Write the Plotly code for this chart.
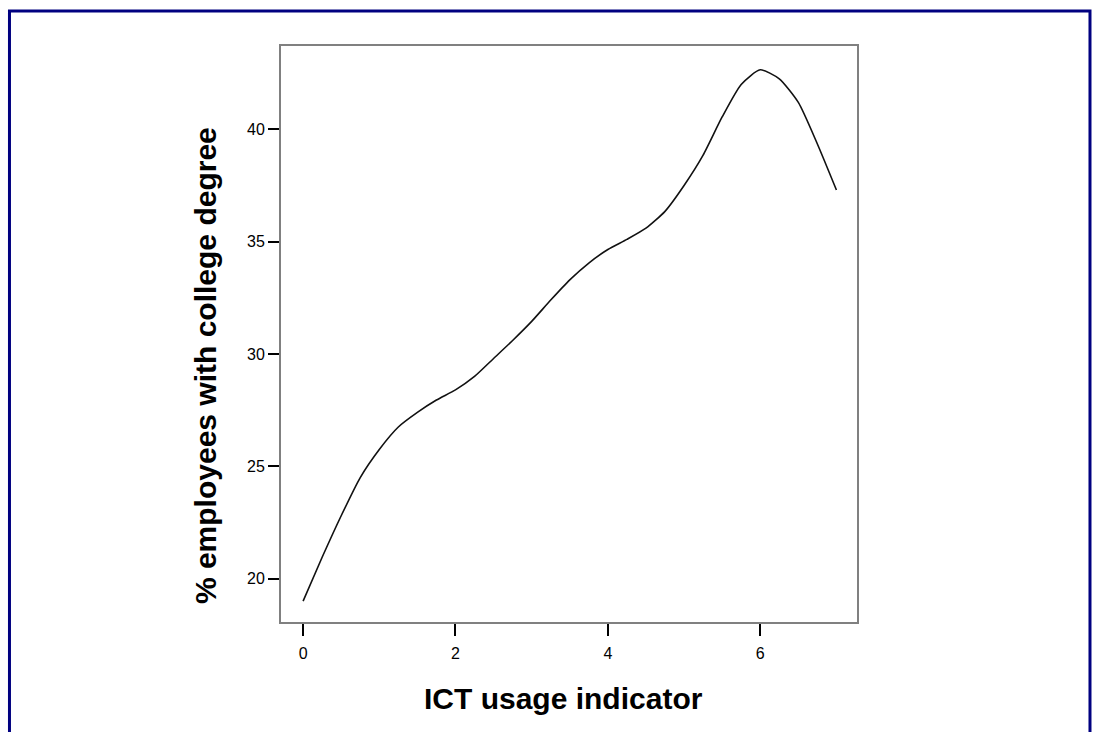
import plotly.graph_objects as go

ict_usage = [0, 0.25, 0.5, 0.75, 1.0, 1.25, 1.5, 1.75, 2.0, 2.25, 2.5, 2.75, 3.0, 3.25,
             3.5, 3.75, 4.0, 4.25, 4.5, 4.75, 5.0, 5.25, 5.5, 5.75, 6.0, 6.25, 6.5, 6.75, 7.0]
pct_college = [19.0, 20.95, 22.8, 24.5, 25.75, 26.75, 27.4, 27.95, 28.4, 29.0, 29.8, 30.6,
               31.45, 32.4, 33.3, 34.05, 34.65, 35.1, 35.6, 36.35, 37.5, 38.85, 40.55, 42.0,
               42.65, 42.25, 41.2, 39.35, 37.3]
x_ticks = [0, 2, 4, 6]
y_ticks = [20, 25, 30, 35, 40]
x_title = "ICT usage indicator"
y_title = "% employees with college degree"

fig = go.Figure()
fig.add_trace(go.Scatter(x=ict_usage, y=pct_college, mode="lines",
                         line=dict(color="#111111", width=1.6, shape="spline", smoothing=0.6),
                         showlegend=False, hoverinfo="skip"))

axis_common = dict(showgrid=False, zeroline=False, showline=True, mirror=True,
                   linecolor="#808080", linewidth=2, ticks="outside",
                   tickwidth=2, tickcolor="#000000",
                   tickfont=dict(family="Liberation Sans, Arial", size=16, color="#000000"))

fig.update_xaxes(range=[-0.29, 7.27], tickvals=x_ticks, ticklen=12,
                 ticklabelstandoff=4, **axis_common)
fig.update_yaxes(range=[18.07, 43.71], tickvals=y_ticks, ticklen=11, **axis_common)

fig.update_layout(
    width=1094, height=732,
    margin=dict(l=281, r=237, t=46, b=110),
    paper_bgcolor="white", plot_bgcolor="white",
    annotations=[
        dict(text=f"<b>{x_title}</b>", xref="paper", yref="paper", x=0.49, y=-0.132,
             showarrow=False, xanchor="center", yanchor="middle",
             font=dict(family="Liberation Sans, Arial", size=30, color="#000000")),
        dict(text=f"<b>{y_title}</b>", xref="paper", yref="paper", x=-0.132, y=0.446,
             showarrow=False, xanchor="center", yanchor="middle", textangle=-90,
             font=dict(family="Liberation Sans, Arial", size=30, color="#000000")),
    ],
    shapes=[
        dict(type="rect", xref="paper", yref="paper", x0=-0.4714, x1=1.4045, y0=-0.25, y1=1.0608,
             line=dict(color="#000080", width=3), layer="below"),
    ],
)

fig.write_html("out.html", config={"displayModeBar": False},
               post_script="document.body.style.margin='0';document.body.style.overflow='hidden';")
